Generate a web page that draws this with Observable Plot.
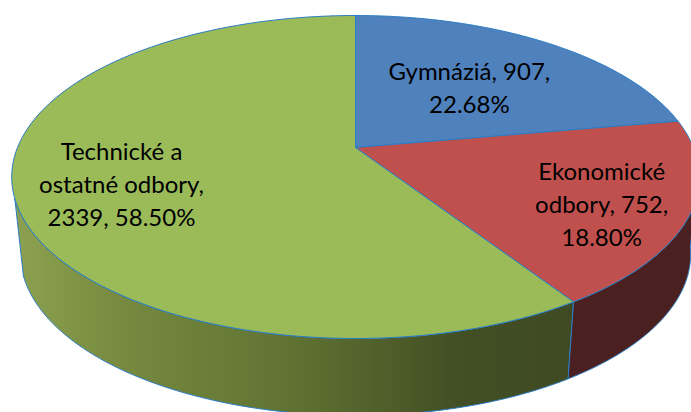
<!DOCTYPE html>
<html><head><meta charset="utf-8">
<script src="https://cdn.jsdelivr.net/npm/d3@7"></script>
<script src="https://cdn.jsdelivr.net/npm/@observablehq/plot@0.6"></script>
<style>html,body{margin:0;padding:0;background:#fff;overflow:hidden}svg{display:block}</style>
</head><body><div id="chart"></div>
<script>
// Data
const categories = ["Gymnáziá", "Ekonomické odbory", "Technické a ostatné odbory"];
const values = [907, 752, 2339];
const labels = ["Gymnáziá, 907,\n22.68%", "Ekonomické\nodbory, 752,\n18.80%", "Technické a\nostatné odbory,\n2339, 58.50%"];
const topColors = ["#4F81BD", "#C0504D", "#9BBB59"];

// View of the tilted disc
const view = {cx: 355, cy: 147, a: 338, b: 156.1, k: 0.1827, warp: 2.6, depth: 77, shrink: 0.975};
const labelRadius = [0.56, 0.76, 0.699];
const labelTurn = [0.5, 2.5, -0.55];
const rad = d => d * Math.PI / 180;

function project(theta, r = 1, bottom = false) {
  const t = rad(theta - view.warp * Math.sin(rad(theta / 2)));
  const u = r * Math.sin(t), v = r * Math.cos(t), w = 1 + view.k * v;
  const x = view.a * u / w, y = view.b * v / w;
  return bottom
    ? {x: view.cx + view.shrink * x, y: view.cy - y + view.depth}
    : {x: view.cx + x, y: view.cy - y};
}
const total = d3.sum(values);
let run = 0;
const slices = categories.map((name, i) => {
  const start = run / total * 360; run += values[i];
  return {name, start, end: run / total * 360, color: topColors[i], label: labels[i]};
});
const arc = (a, b, bottom = false) => d3.range(0, 161).map(i => project(a + (b - a) * i / 160, 1, bottom));
const face = s => [{x: view.cx, y: view.cy}, ...arc(s.start, s.end), {x: view.cx, y: view.cy}];
const side = (a, b) => { const t = arc(a, b), f = arc(a, b, true).reverse(); return [...t, ...f, t[0]]; };

const edge = "#2A7DC4";
const line = (pts, fill) => Plot.line(pts, {x: "x", y: "y", fill, stroke: edge, strokeWidth: 1, strokeLinejoin: "round"});

const chart = Plot.plot({
  width: 691, height: 412, margin: 0,
  x: {domain: [0, 691], range: [0, 691], axis: null},
  y: {domain: [0, 412], range: [0, 412], axis: null},
  marks: [
    line(side(slices[1].end, 254), "url(#greenSide)"),
    line(side(100, slices[1].end), "#4B2020"),
    ...slices.map(s => line(face(s), s.color)),
    Plot.text(slices.map((s, i) => ({...project((s.start + s.end) / 2 + labelTurn[i], labelRadius[i]), t: s.label})), {
      x: "x", y: "y", text: "t", fontSize: 24, lineHeight: 1.375, fill: "#000", textAnchor: "middle"
    })
  ],
  style: {fontFamily: "Lato, 'Open Sans', sans-serif", background: "#fff"}
});
const defs = d3.create("svg:defs");
const g = defs.append("linearGradient").attr("id", "greenSide").attr("x1", 1).attr("x2", 0).attr("y1", 0).attr("y2", 0);
[[0, "#3F4A22"], [0.2, "#424E24"], [0.5, "#5F7232"], [0.8, "#76893F"], [1, "#8CA150"]]
  .forEach(([o, c]) => g.append("stop").attr("offset", o).attr("stop-color", c));
chart.prepend(defs.node());
document.getElementById("chart").append(chart);
</script></body></html>
